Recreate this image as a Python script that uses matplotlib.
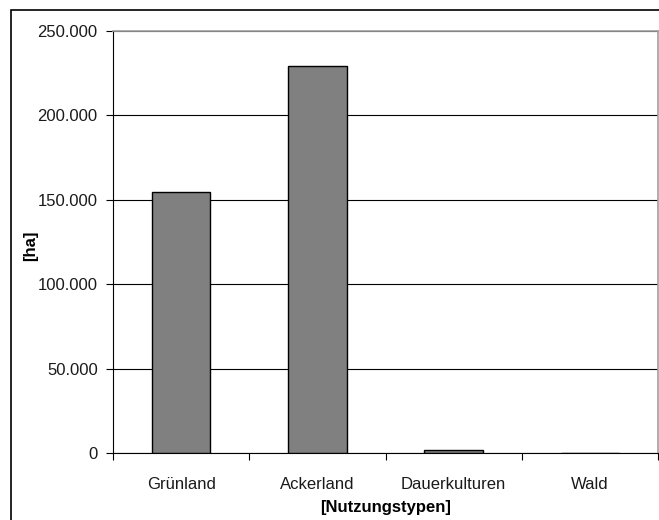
import numpy as np
import matplotlib.pyplot as plt
from matplotlib.patches import Rectangle
from matplotlib.ticker import FuncFormatter, FixedLocator

plt.rcParams['font.family'] = ['Liberation Sans', 'DejaVu Sans']

categories = ['Grünland', 'Ackerland', 'Dauerkulturen', 'Wald']
area_ha = [154500, 229000, 1800, 0]

fig = plt.figure(figsize=(6.59, 5.20), dpi=100)
ax = fig.add_axes([113 / 659, 1 - 453 / 520, 545 / 659, 422 / 520])

x = np.arange(len(categories))
ax.bar(x, area_ha, width=0.43, color='#808080', edgecolor='black', linewidth=1, zorder=3)

ax.set_xlim(-0.5, len(categories) - 0.5)
ax.set_ylim(0, 250000)
ax.set_yticks(np.arange(0, 250001, 50000))
ax.yaxis.set_major_formatter(FuncFormatter(lambda v, p: f'{int(v):,}'.replace(',', '.')))
ax.grid(axis='y', color='black', linewidth=0.8, zorder=0)

ax.set_xticks(x)
ax.set_xticklabels(categories)
ax.xaxis.set_minor_locator(FixedLocator(np.arange(-0.5, len(categories), 1.0)))
ax.tick_params(axis='x', which='major', length=0, pad=17, labelsize=12, labelcolor='#1a1a1a')
ax.tick_params(axis='x', which='minor', length=5, width=0.8, direction='out')
ax.tick_params(axis='y', length=5, width=0.8, direction='out', labelsize=12, pad=6,
               labelcolor='#1a1a1a')

for side in ['top', 'right']:
    ax.spines[side].set_color('#a0a0a0')
    ax.spines[side].set_linewidth(1.2)
ax.spines['left'].set_linewidth(0.8)
ax.spines['bottom'].set_linewidth(0.8)

ax.set_ylabel('[ha]', fontsize=12, fontweight='bold')
ax.yaxis.set_label_coords(-0.138, 0.49)
ax.set_xlabel('[Nutzungstypen]', fontsize=12, fontweight='bold', labelpad=6)

# outer chart frame
fig.patches.append(Rectangle((11 / 659, -0.05), 1.1, 1 - 10 / 520 + 0.05,
                             transform=fig.transFigure, fill=False,
                             edgecolor='black', linewidth=1.2))

fig.savefig('out.png', dpi=100)
